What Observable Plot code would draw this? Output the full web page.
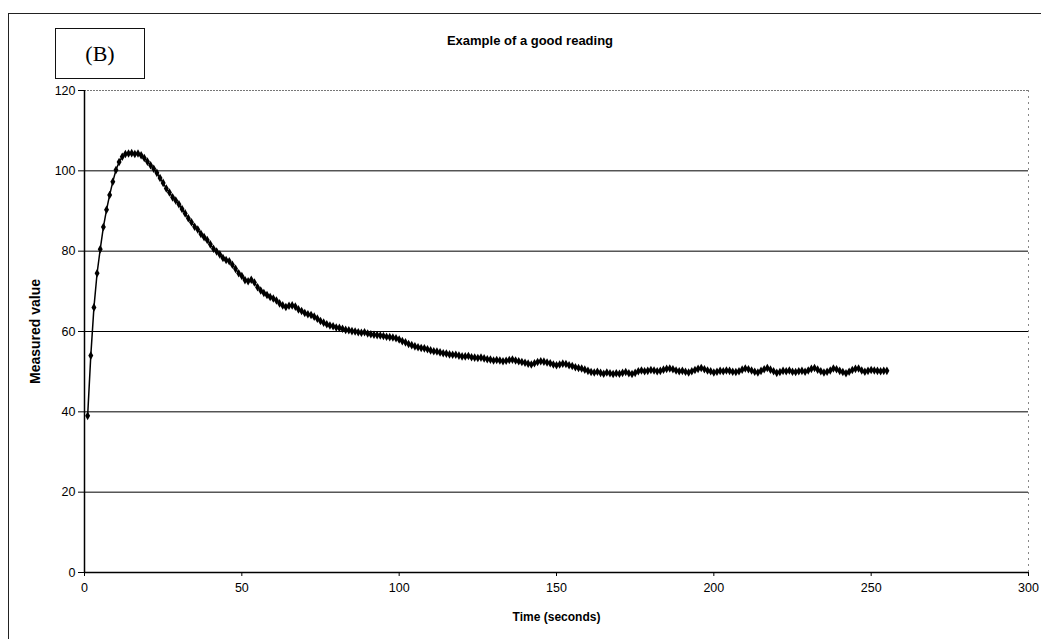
<!DOCTYPE html>
<html>
<head>
<meta charset="utf-8">
<script src="https://cdn.jsdelivr.net/npm/d3@7"></script>
<script src="https://cdn.jsdelivr.net/npm/@observablehq/plot@0.6"></script>
<style>
  html, body { margin: 0; padding: 0; background: #fff; }
  #wrap { position: relative; width: 1041px; height: 639px; overflow: hidden; font-family: "Liberation Sans", Arial, sans-serif; }
  #frame { position: absolute; left: 8px; top: 13px; width: 1100px; height: 700px; border-top: 1.5px solid #222; border-left: 1.5px solid #222; }
  #tag { position: absolute; left: 55px; top: 28px; width: 88px; height: 49px; border: 1.5px solid #111; font-family: "Liberation Serif", "DejaVu Serif", serif; font-size: 22px; display: flex; align-items: center; justify-content: center; }
  #title { position: absolute; left: 380px; width: 300px; top: 33px; text-align: center; font-weight: bold; font-size: 13px; }
  #chart { position: absolute; left: 0; top: 0; }
  #chart svg g[aria-label$="tick label"] text { font-size: 12.5px !important; }
</style>
</head>
<body>
<div id="wrap">
  <div id="frame"></div>
  <div id="tag">(B)</div>
  <div id="title">Example of a good reading</div>
  <div id="chart"></div>
</div>
<script>
// Sample times (seconds)
const times = [
  1,2,3,4,5,6,7,8,9,10,11,12,13,14,15,16,17,18,19,20,
  21,22,23,24,25,26,27,28,29,30,31,32,33,34,35,36,37,38,39,40,
  41,42,43,44,45,46,47,48,49,50,51,52,53,54,55,56,57,58,59,60,
  61,62,63,64,65,66,67,68,69,70,71,72,73,74,75,76,77,78,79,80,
  81,82,83,84,85,86,87,88,89,90,91,92,93,94,95,96,97,98,99,100,
  101,102,103,104,105,106,107,108,109,110,111,112,113,114,115,116,117,118,119,120,
  121,122,123,124,125,126,127,128,129,130,131,132,133,134,135,136,137,138,139,140,
  141,142,143,144,145,146,147,148,149,150,151,152,153,154,155,156,157,158,159,160,
  161,162,163,164,165,166,167,168,169,170,171,172,173,174,175,176,177,178,179,180,
  181,182,183,184,185,186,187,188,189,190,191,192,193,194,195,196,197,198,199,200,
  201,202,203,204,205,206,207,208,209,210,211,212,213,214,215,216,217,218,219,220,
  221,222,223,224,225,226,227,228,229,230,231,232,233,234,235,236,237,238,239,240,
  241,242,243,244,245,246,247,248,249,250,251,252,253,254,255
];

// Measured value at each sample time
const measured = [
  39,54,66,74.5,80.5,86,90.3,94,97.3,100.2,102.2,103.5,104.2,104.3,104.4,104.2,104.3,103.9,103.2,102.3,
  101.4,100.5,99.5,98.2,97,95.6,94.6,93.4,92.6,91.7,90.5,89.4,88.2,87.2,86.1,85.4,84.3,83.5,82.8,81.7,
  80.6,79.9,79.2,78.3,77.8,77.5,76.6,75.6,74.5,73.8,72.8,72.5,72.9,72.2,71,70.2,69.6,69.1,68.6,68.2,
  67.7,67,66.5,66.1,66.4,66.5,66.2,65.5,65.1,64.6,64.3,64.1,63.7,63.2,62.6,62.2,61.8,61.5,61.3,61,
  60.9,60.7,60.4,60.3,60.1,60,59.8,59.7,59.8,59.5,59.3,59.2,59.1,59,58.9,58.7,58.6,58.5,58.3,58,
  57.6,57.3,56.9,56.6,56.3,56.1,55.9,55.8,55.6,55.3,55.1,55,54.8,54.6,54.5,54.3,54.2,54.2,54,53.8,
  53.8,53.9,53.6,53.5,53.4,53.5,53.3,53.1,53,52.8,52.9,52.8,52.6,52.7,52.9,53,52.8,52.6,52.4,52.2,
  52,51.8,52.1,52.4,52.6,52.5,52.3,52.1,51.8,51.6,51.8,52,51.9,51.6,51.4,51.1,50.9,50.8,50.5,50.2,
  49.9,49.8,50,49.7,49.5,49.8,49.6,49.4,49.6,49.5,49.7,49.9,49.6,49.4,49.7,50.1,50.3,50.1,50.2,50.4,
  50.3,50.1,50.2,50.5,50.7,50.8,50.6,50.3,50.1,50.2,50,49.8,50.1,50.4,50.7,50.9,50.6,50.3,50.1,49.8,
  50,50.2,50.1,50.3,50.2,50,49.9,50.1,50.5,50.8,50.6,50.3,50,49.8,50.2,50.6,50.9,50.5,50.1,49.7,
  49.9,50.2,50.1,50.3,50,49.9,50.1,50.2,50,50.3,50.7,50.9,50.5,50.1,49.8,50,50.3,50.8,50.6,50.2,
  49.9,49.6,50,50.4,50.7,50.8,50.3,50,50.2,50.4,50.3,50.2,50.1,50.2,50.2
];

const xTicks = [0, 50, 100, 150, 200, 250, 300];
const yTicks = [0, 20, 40, 60, 80, 100, 120];
const gridLevels = [20, 40, 60, 80, 100];

const readings = times.map((t, i) => ({t, v: measured[i]}));

const chart = Plot.plot({
  width: 1041,
  height: 639,
  marginLeft: 84,
  marginRight: 13,
  marginTop: 90,
  marginBottom: 67,
  x: {domain: [0, 300]},
  y: {domain: [0, 120]},
  style: {fontFamily: "'Liberation Sans', Arial, sans-serif", fontSize: "12px", background: "transparent", color: "black"},
  marks: [
    Plot.ruleY(gridLevels, {stroke: "black", strokeWidth: 1}),
    Plot.ruleY([120], {stroke: "#777", strokeWidth: 1, strokeDasharray: "2,1"}),
    Plot.ruleX([300], {stroke: "#888", strokeWidth: 1, strokeDasharray: "2,4"}),
    Plot.axisY({ticks: yTicks, tickSize: 6, tickPadding: 3, label: null}),
    Plot.axisX({ticks: xTicks, tickSize: 4, tickPadding: 7, label: null}),
    Plot.ruleX([0], {stroke: "black", strokeWidth: 1.5}),
    Plot.ruleY([0], {stroke: "black", strokeWidth: 1.5}),
    Plot.line(readings, {x: "t", y: "v", stroke: "black", strokeWidth: 1.5}),
    Plot.dot(readings, {x: "t", y: "v", symbol: "diamond", r: 2.6, fill: "black", stroke: "none"}),
    Plot.text(["Measured value"], {frameAnchor: "left", textAnchor: "middle", dx: -49, rotate: -90, fontWeight: "bold", fontSize: 14}),
    Plot.text(["Time (seconds)"], {frameAnchor: "bottom", textAnchor: "middle", dy: 48, fontWeight: "bold", fontSize: 12})
  ]
});

// Larger tick labels
d3.select(chart).selectAll('g[aria-label$="tick label"]').attr("font-size", 12.5).selectAll("text").style("font-size", "12.5px");

document.getElementById("chart").appendChild(chart);
</script>
</body>
</html>
